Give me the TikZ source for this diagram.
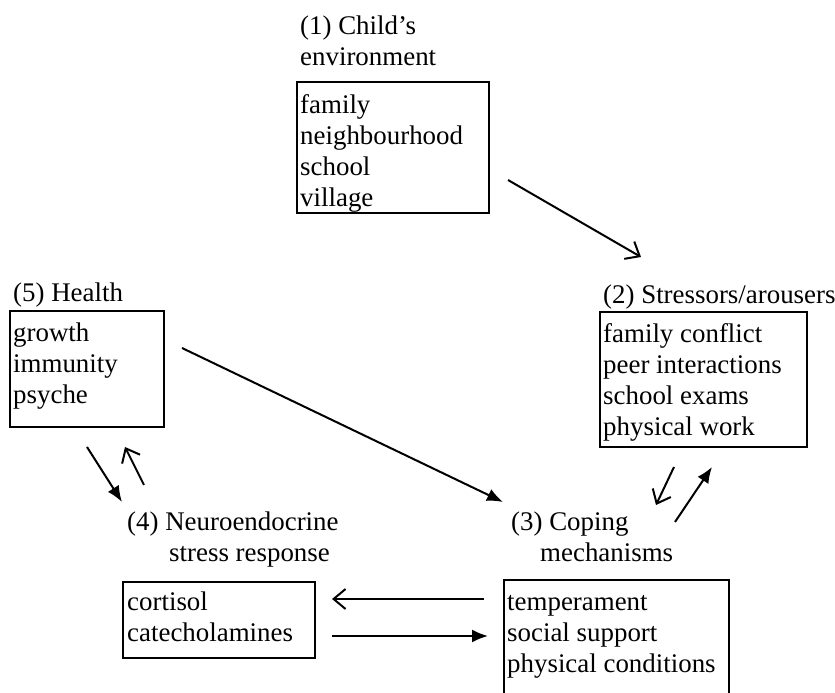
\documentclass[tikz,border=0pt]{standalone}
\usepackage{fontspec}
\setmainfont{Liberation Serif}
\usetikzlibrary{arrows.meta}
\tikzstyle{panel}=[draw, line width=1.3pt, anchor=north west, inner sep=0pt, outer sep=0pt]
\tikzstyle{items}=[anchor=base west, align=left, inner sep=0pt]
\tikzstyle{heading}=[anchor=base west, align=left, inner sep=0pt]
\tikzstyle{openarrow}=[line width=2pt, -{Straight Barb[length=12pt,width=20pt,line width=2pt]}]
\tikzstyle{fullarrow}=[line width=2pt, -{Latex[length=16pt,width=13pt]}]

\begin{document}
\begin{tikzpicture}[x=1pt, y=1pt, font=\fontsize{26.9pt}{31pt}\selectfont]
\useasboundingbox (0,0) rectangle (835,693);
\clip (0,0) rectangle (835,693);

% boxes
\node[panel, minimum width=192pt, minimum height=131pt] (envbox) at (297,611) {};
\node[panel, minimum width=207pt, minimum height=135pt] (stressbox) at (600,381) {};
\node[panel, minimum width=154pt, minimum height=116pt] (healthbox) at (10,382) {};
\node[panel, minimum width=192pt, minimum height=76pt] (neurobox) at (123,111) {};
\node[panel, minimum width=225pt, minimum height=130pt] (copingbox) at (504,113) {};

% headings (anchored on the last line)
\node[heading] (envhead) at (300,627) {(1) Child's\\environment};
\node[heading] (stresshead) at (603,389) {(2) Stressors/arousers};
\node[heading] (healthhead) at (13,391) {(5) Health};
\node[heading] (neurohead) at (127,131) {(4) Neuroendocrine\\\hspace*{42pt}stress response};
\node[heading] (copinghead) at (511,131) {(3) Coping\\\hspace*{29pt}mechanisms};

% contents
\node[items] (envitems) at (300,486) {family\\neighbourhood\\school\\village};
\node[items] (stressitems) at (603,257) {family conflict\\peer interactions\\school exams\\physical work};
\node[items] (healthitems) at (13,289) {growth\\immunity\\psyche};
\node[items] (neuroitems) at (127,51) {cortisol\\catecholamines};
\node[items] (copingitems) at (507,20) {temperament\\social support\\physical conditions};

% arrow ends
\coordinate (envout) at (508,513);
\coordinate (stressin) at (641,436);
\coordinate (healthout) at (182,345);
\coordinate (copingin) at (503,191);
\coordinate (healthdown) at (87,246);
\coordinate (neuroin) at (122,191);
\coordinate (neuroup) at (144,208);
\coordinate (healthin) at (125,246);
\coordinate (stressdown) at (674,226);
\coordinate (copingtop) at (656,188);
\coordinate (copingup) at (675,171);
\coordinate (stressback) at (712,226);
\coordinate (copingleft) at (484,94);
\coordinate (neuroright) at (332,94);
\coordinate (neurotail) at (332,57);
\coordinate (copingright) at (488,57);

\draw[openarrow] (envout) -- (stressin);
\draw[fullarrow] (healthout) -- (copingin);
\draw[fullarrow] (healthdown) -- (neuroin);
\draw[openarrow] (neuroup) -- (healthin);
\draw[openarrow] (stressdown) -- (copingtop);
\draw[fullarrow] (copingup) -- (stressback);
\draw[openarrow] (copingleft) -- (neuroright);
\draw[fullarrow] (neurotail) -- (copingright);

\end{tikzpicture}
\end{document}
